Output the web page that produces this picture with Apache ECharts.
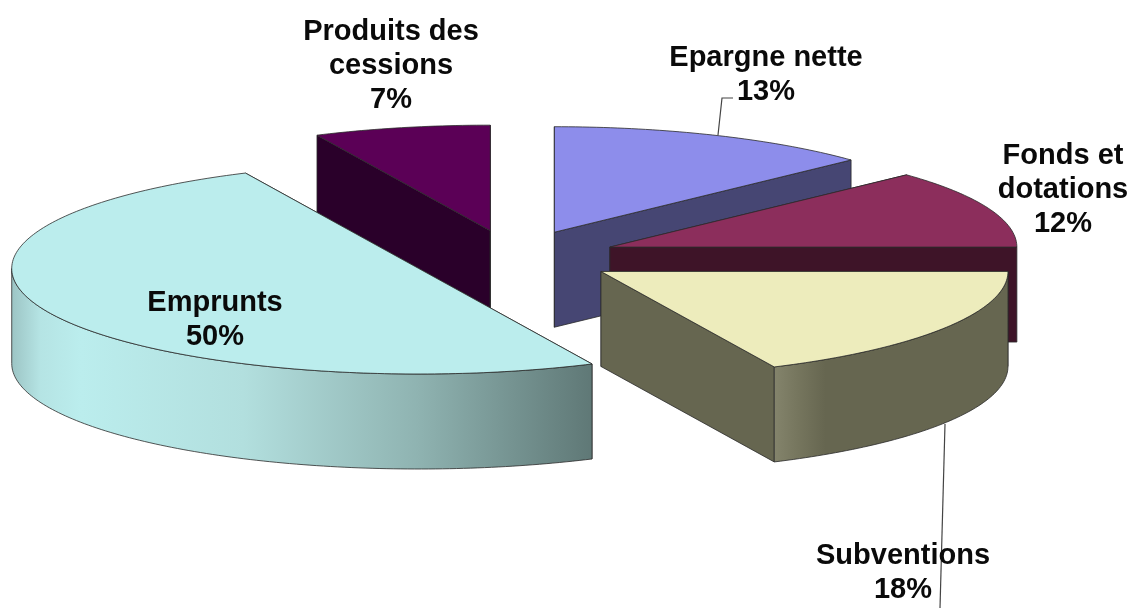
<!DOCTYPE html>
<html>
<head>
<meta charset="utf-8">
<style>
    html, body { margin: 0; padding: 0; background: #fff; }
    #chart { width: 1134px; height: 608px; }
</style>
<script src="https://cdn.jsdelivr.net/npm/echarts@6/dist/echarts.min.js"></script>
</head>
<body>
<div id="chart"></div>
<script>
// Data, in drawing order (back slices first)
const categories = ['Produits des\ncessions', 'Epargne nette', 'Fonds et\ndotations', 'Subventions', 'Emprunts'];
const shares = [7, 13, 12, 18, 50];

// Colours per slice
const topColors = ['#5b0056', '#8d8deb', '#8c2e5c', '#edecbc', '#bbeded'];
const faceColors = ['#2a002a', '#464673', '#3e1428', '#666650', '#666650'];
const sideStops = [
    null, null, null,
    [[0, '#84846c'], [0.1, '#76765e'], [0.22, '#666650'], [1, '#666650']],
    [[0, '#9cc4c4'], [0.05, '#b5e4e4'], [0.12, '#bbeded'], [0.4, '#b2dfde'], [0.7, '#8fb3b1'], [1, '#5f7876']]
];

// Pie geometry
const center = [513, 257];
const radiusX = 407;
const radiusY = 105.5;
const depth = 95;
const explode = 0.256;
const startAngle = 244.8;

// Label centres and leader lines
const labelPos = [[391, 66], [766, 75], [1063, 190], [903, 573], [215, 320]];
const leaders = [
    null,
    [[718, 135], [722, 98], [733, 98]],
    null,
    [[945, 424], [940, 608]],
    null
];

const total = shares.reduce((a, b) => a + b, 0);
const rad = (deg) => deg * Math.PI / 180;

const sliceAngles = (index) => {
    let sum = 0;
    for (let i = 0; i < index; i++) sum += shares[i];
    const from = +(startAngle + sum / total * 360).toFixed(3);
    const to = +(from + shares[index] / total * 360).toFixed(3);
    return [from, to];
};

const arcPoints = (cx, cy, from, to) => {
    const pts = [];
    const steps = Math.max(2, Math.ceil(to - from));
    for (let i = 0; i <= steps; i++) {
        const t = rad(from + (to - from) * i / steps);
        pts.push([cx + radiusX * Math.cos(t), cy + radiusY * Math.sin(t)]);
    }
    return pts;
};

const edge = { stroke: '#2b2b2b', lineWidth: 0.8 };

const renderSlice = (params, api) => {
    const i = params.dataIndex;
    const [from, to] = sliceAngles(i);
    const mid = rad((from + to) / 2);
    const cx = center[0] + explode * radiusX * Math.cos(mid);
    const cy = center[1] + explode * radiusY * Math.sin(mid);
    const down = (p) => [p[0], p[1] + depth];
    const children = [];

    // Cut faces
    const arc = arcPoints(cx, cy, from, to);
    [arc[0], arc[arc.length - 1]].forEach((p) => {
        children.push({
            type: 'polygon',
            shape: { points: [[cx, cy], p, down(p), [cx, cy + depth]] },
            style: { fill: faceColors[i], stroke: edge.stroke, lineWidth: edge.lineWidth }
        });
    });

    // Outer wall: only the front half of the ellipse shows
    const wrap = Math.floor(from / 360) * 360;
    const sideFrom = Math.max(from - wrap, 0);
    const sideTo = Math.min(to - wrap, 180);
    if (sideFrom < sideTo) {
        const wall = arcPoints(cx, cy, sideFrom, sideTo);
        children.push({
            type: 'polygon',
            shape: { points: wall.concat(wall.map(down).reverse()) },
            style: {
                fill: new echarts.graphic.LinearGradient(0, 0, 1, 0,
                    sideStops[i].map(s => ({ offset: s[0], color: s[1] }))),
                stroke: edge.stroke,
                lineWidth: edge.lineWidth
            }
        });
    }

    // Top
    children.push({
        type: 'polygon',
        shape: { points: [[cx, cy]].concat(arc) },
        style: { fill: topColors[i], stroke: edge.stroke, lineWidth: edge.lineWidth }
    });

    return { type: 'group', children: children };
};

const renderLabel = (params, api) => {
    const i = params.dataIndex;
    const children = [];
    if (leaders[i]) {
        children.push({
            type: 'polyline',
            shape: { points: leaders[i] },
            style: { fill: null, stroke: '#444', lineWidth: 1.2 }
        });
    }
    children.push({
        type: 'text',
        style: {
            text: categories[i] + '\n' + api.value(0) + '%',
            x: labelPos[i][0],
            y: labelPos[i][1],
            align: 'center',
            verticalAlign: 'middle',
            font: 'bold 29px "Liberation Sans", Arial, sans-serif',
            lineHeight: 34,
            fill: '#0a0a0a'
        }
    });
    return { type: 'group', children: children };
};

const chart = echarts.init(document.getElementById('chart'), null, { renderer: 'canvas' });
chart.setOption({
    backgroundColor: '#ffffff',
    animation: false,
    series: [
        {
            type: 'custom',
            coordinateSystem: 'none',
            renderItem: renderSlice,
            data: shares,
            silent: true,
            z: 1
        },
        {
            type: 'custom',
            coordinateSystem: 'none',
            renderItem: renderLabel,
            data: shares,
            silent: true,
            z: 2
        }
    ]
});
</script>
</body>
</html>
